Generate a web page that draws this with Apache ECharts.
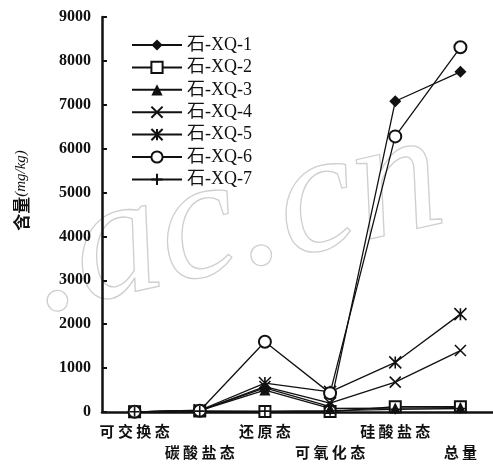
<!DOCTYPE html>
<html>
<head>
<meta charset="utf-8">
<script src="https://cdn.jsdelivr.net/npm/echarts@6/dist/echarts.min.js"></script>
<style>
  html, body { margin: 0; padding: 0; background: #fff; }
  #chart { width: 493px; height: 466px; }
</style>
</head>
<body>
<div id="chart"></div>
<script>
// Fractions of the sample, in reading order along the x axis
const categories = ['可交换态', '碳酸盐态', '还原态', '可氧化态', '硅酸盐态', '总量'];

// Content (mg/kg) of each sample in each fraction
const xq1 = [5, 30, 550, 120, 7080, 7750];
const xq2 = [5, 20, 10, 10, 120, 120];
const xq3 = [5, 30, 500, 80, 90, 100];
const xq4 = [5, 30, 580, 200, 680, 1400];
const xq5 = [5, 40, 660, 460, 1130, 2230];
const xq6 = [5, 30, 1600, 430, 6280, 8310];
const xq7 = [5, 20, 20, 30, 60, 80];

const yTicks = { min: 0, max: 9000, step: 1000 };

const INK = '#111';
const CROSS = 'path://M0,0L10,10M10,0L0,10';
const STAR = 'path://M0,0L10,10M10,0L0,10M5,0L5,10';
const PLUS = 'path://M0,5L10,5M5,0L5,10';

function seriesOf(name, values, symbol, size, stroked) {
  return {
    name: name,
    type: 'line',
    data: values,
    symbol: symbol,
    symbolSize: size,
    lineStyle: { color: INK, width: 1.3 },
    itemStyle: stroked
      ? { color: INK, borderColor: INK, borderWidth: 1.6 }
      : { color: INK },
    emphasis: { disabled: true }
  };
}

const chart = echarts.init(document.getElementById('chart'), null, { renderer: 'canvas' });

chart.setOption({
  animation: false,
  backgroundColor: '#fff',
  grid: { left: 102, top: 17, width: 394, bottom: 54, containLabel: false },
  legend: {
    orient: 'vertical',
    left: 131,
    top: 36,
    padding: 0,
    itemWidth: 50,
    itemHeight: 14,
    itemGap: 4.4,
    selectedMode: false,
    textStyle: { fontFamily: 'Liberation Serif, Noto Sans CJK SC', fontSize: 18, color: INK, lineHeight: 18 },
    data: ['石-XQ-1', '石-XQ-2', '石-XQ-3', '石-XQ-4', '石-XQ-5', '石-XQ-6', '石-XQ-7']
  },
  xAxis: {
    type: 'category',
    data: categories,
    boundaryGap: true,
    axisLine: { lineStyle: { color: INK, width: 2.5 } },
    axisTick: { inside: true, length: 5, lineStyle: { color: INK, width: 1.5 } },
    axisLabel: {
      interval: 0,
      margin: 9,
      verticalAlign: 'top',
      lineHeight: 21,
      fontFamily: 'Noto Sans CJK SC',
      fontWeight: 'bold',
      fontSize: 15,
      color: INK,
      formatter: function (v, i) {
        const spaced = v.split('').join(' ');
        return i % 2 === 1 ? '\n' + spaced : spaced;
      }
    }
  },
  yAxis: {
    type: 'value',
    min: yTicks.min,
    max: yTicks.max,
    interval: yTicks.step,
    splitLine: { show: false },
    axisLine: { show: true, lineStyle: { color: INK, width: 2.5 } },
    axisTick: { show: true, inside: true, length: 5, lineStyle: { color: INK, width: 2 } },
    axisLabel: {
      margin: 11,
      fontFamily: 'Liberation Serif',
      fontWeight: 'bold',
      fontSize: 16,
      color: INK,
      formatter: function (v) { return String(v); }
    },
    name: '{a|含量}{b|(mg/kg)}',
    nameLocation: 'middle',
    nameRotate: 90,
    nameGap: 72,
    nameTextStyle: {
      padding: [0, 0, 0, 48],
      rich: {
        a: { fontFamily: 'Noto Sans CJK SC', fontWeight: 'bold', fontSize: 17, color: INK },
        b: { fontFamily: 'Liberation Serif', fontStyle: 'italic', fontSize: 15, color: INK }
      }
    }
  },
  graphic: [{
    // faint outlined site mark behind the plot
    type: 'text',
    z: -10,
    silent: true,
    left: 12,
    top: 90,
    rotation: 0.22,
    style: {
      text: '.ac.cn',
      font: 'italic 175px "Liberation Serif"',
      fill: 'transparent',
      stroke: '#cfcfcf',
      lineWidth: 1.3
    }
  }],
  series: [
    seriesOf('石-XQ-1', xq1, 'diamond', 12, false),
    seriesOf('石-XQ-2', xq2, 'emptyRect', 11, false),
    seriesOf('石-XQ-3', xq3, 'triangle', 11, false),
    seriesOf('石-XQ-4', xq4, CROSS, 11, true),
    seriesOf('石-XQ-5', xq5, STAR, 12, true),
    seriesOf('石-XQ-6', xq6, 'emptyCircle', 12, false),
    seriesOf('石-XQ-7', xq7, PLUS, 10, true)
  ]
});
</script>
</body>
</html>
